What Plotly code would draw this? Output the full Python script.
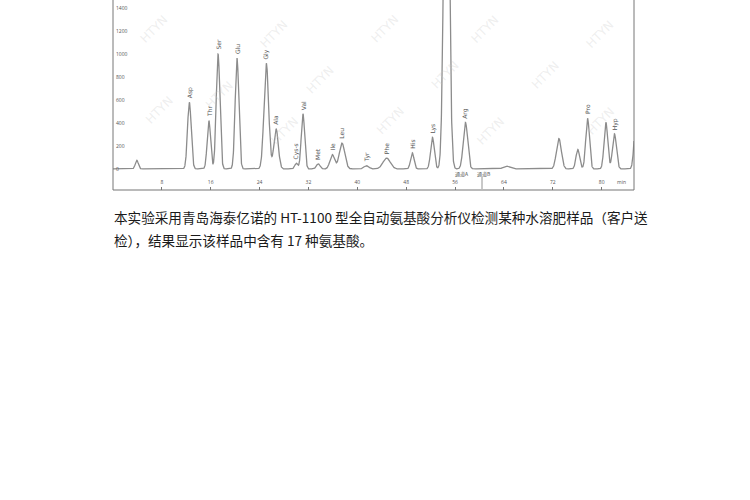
import numpy as np
import plotly.graph_objects as go

# Peak table
peak_times = [3.9, 12.5, 15.7, 17.2, 20.3, 25.1, 26.7, 30.0, 31.1, 33.6, 35.9, 37.5,
              41.5, 44.8, 49.0, 52.3, 54.6, 57.7, 64.4, 73.0, 76.1, 77.7, 80.7, 82.1, 85.6]
peak_heights = [75, 580, 420, 1000, 965, 920, 350, 50, 480, 45, 125, 225,
                28, 95, 140, 275, 4000, 405, 25, 265, 170, 440, 405, 305, 400]
peak_sigmas = [0.25, 0.3, 0.28, 0.3, 0.3, 0.38, 0.36, 0.25, 0.28, 0.3, 0.38, 0.45,
               0.4, 0.6, 0.28, 0.3, 0.4, 0.36, 0.5, 0.4, 0.3, 0.3, 0.3, 0.32, 0.3]
peak_names = ["", "Asp", "Thr", "Ser", "Glu", "Gly", "Ala", "Cys-s", "Val", "Met", "Ile", "Leu",
              "Tyr", "Phe", "His", "Lys", "", "Arg", "", "", "", "Pro", "", "Hyp", ""]

y_ticks = [0, 200, 400, 600, 800, 1000, 1200, 1400]
x_ticks = [8, 16, 24, 32, 40, 48, 56, 64, 72, 80]

caption_lines = ["本实验采用青岛海泰亿诺的 HT-1100 型全自动氨基酸分析仪检测某种水溶肥样品（客户送",
                 "检），结果显示该样品中含有 17 种氨基酸。"]

t = np.linspace(0, 85.3, 4000)
signal = np.zeros_like(t)
for tc, h, s in zip(peak_times, peak_heights, peak_sigmas):
    signal += h * np.exp(-0.5 * ((t - tc) / s) ** 2)

L, R, T, B = 113, 116, 0, 310
W, H = 750, 500
pw, ph = W - L - R, H - T - B
X0, X1 = 0, 85.3
Y0, Y1 = -183, 1470

def px(x):
    return (x - L) / pw

def py(y):
    return (H - B - y) / ph

fig = go.Figure()
fig.add_trace(go.Scatter(x=t, y=signal, mode="lines",
                         line=dict(color="#8c8c8c", width=1.3), hoverinfo="skip"))

annotations = []
# watermarks
wm = [(135, 10), (200, 95), (255, 15), (320, 80), (385, 10), (445, 75), (505, 10),
      (565, 75), (620, 15), (140, 110), (265, 150), (390, 140), (510, 150), (620, 140)]
for (x, y) in wm:
    annotations.append(dict(x=px(x), y=py(y), xref="paper", yref="paper", text="HTYN",
                            showarrow=False, textangle=-45,
                            font=dict(size=12, color="rgba(200,200,200,0.3)", family="DejaVu Sans")))

for tc, h, name in zip(peak_times, peak_heights, peak_names):
    if name:
        annotations.append(dict(x=tc, y=h, text=name, showarrow=False, textangle=-90,
                                xanchor="center", yanchor="bottom", yshift=2,
                                font=dict(size=6, color="#555", family="DejaVu Sans")))

annotations.append(dict(x=px(628), y=py(187), xref="paper", yref="paper", text="min",
                        showarrow=False, font=dict(size=5, color="#555")))
annotations.append(dict(x=px(471), y=py(180), xref="paper", yref="paper", text="通道A",
                        showarrow=False, font=dict(size=5, color="#555", family="Noto Sans CJK SC")))
annotations.append(dict(x=px(493), y=py(180), xref="paper", yref="paper", text="通道B",
                        showarrow=False, font=dict(size=5, color="#555", family="Noto Sans CJK SC")))

for i, line in enumerate(caption_lines):
    annotations.append(dict(x=px(112), y=py(217 + i * 23), xref="paper", yref="paper",
                            text=line, showarrow=False, xanchor="left", yanchor="middle",
                            font=dict(size=13.6, color="#1a1a1a", family="Noto Sans CJK SC")))

shapes = [
    dict(type="line", xref="paper", yref="paper", x0=0, x1=0, y0=0, y1=1.05,
         line=dict(color="#777", width=1)),
    dict(type="line", xref="paper", yref="paper", x0=1, x1=1, y0=0, y1=1.05,
         line=dict(color="#777", width=1)),
    dict(type="line", xref="paper", yref="paper", x0=0, x1=1, y0=0, y1=0,
         line=dict(color="#777", width=1.2)),
    dict(type="line", xref="paper", yref="paper", x0=px(482), x1=px(482), y0=py(177), y1=py(189),
         line=dict(color="#777", width=0.8)),
]

fig.update_layout(
    width=W, height=H, margin=dict(l=L, r=R, t=T, b=B),
    paper_bgcolor="white", plot_bgcolor="white", showlegend=False, hovermode=False,
    xaxis=dict(range=[X0, X1], tickvals=x_ticks, ticktext=[str(v) for v in x_ticks],
               ticklabelposition="inside", ticks="inside", ticklen=3, tickcolor="#777",
               tickfont=dict(size=5, color="#555"), showgrid=False, zeroline=False, showline=False),
    yaxis=dict(range=[Y0, Y1], tickvals=y_ticks, ticktext=[str(v) for v in y_ticks],
               ticklabelposition="inside", ticks="", tickfont=dict(size=5, color="#555"),
               showgrid=False, zeroline=False, showline=False),
    annotations=annotations, shapes=shapes,
)

fig.write_html("out.html", config={"displayModeBar": False},
               post_script="document.body.style.margin='0';")
